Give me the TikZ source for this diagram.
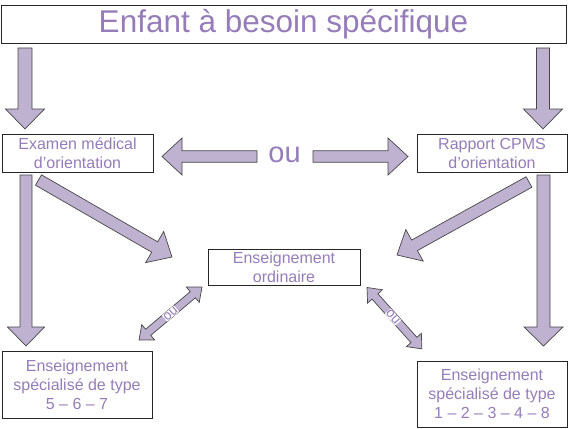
\documentclass[tikz,border=0pt]{standalone}
\usepackage{fontspec}
\setmainfont{Liberation Sans}
\usetikzlibrary{calc}
\definecolor{txtpurple}{RGB}{150,125,185}
\definecolor{arrfill}{RGB}{191,178,209}
\definecolor{arrline}{RGB}{70,70,70}
\tikzset{
  fatarr/.style={fill=arrfill,draw=arrline,line width=0.7pt,line join=miter},
  box/.style={draw=black!85,line width=0.9pt,fill=white,inner sep=0pt,align=center,
    text=txtpurple,font=\fontsize{16}{19}\selectfont},
  smallou/.style={text=txtpurple,font=\fontsize{13.5}{14}\selectfont,fill=white,inner sep=0.3pt},
}
\newcommand\getdir[2]{%
  \path let \p1=(#1),\p2=(#2) in \pgfextra{%
    \pgfmathsetmacro\faA{atan2(\y2-\y1,\x2-\x1)}\xdef\faA{\faA}%
    \pgfmathsetmacro\faL{veclen(\x2-\x1,\y2-\y1)}\xdef\faL{\faL}%
    \xdef\faX{\x1}\xdef\faY{\y1}};}
% from, to, half shaft, half head, head length
\newcommand\fatarrow[5]{%
  \getdir{#1}{#2}%
  \begin{scope}[shift={(\faX,\faY)},rotate=\faA]
    \draw[fatarr] (0,#3) -- ({\faL-#5},#3) -- ({\faL-#5},#4) -- (\faL,0)
      -- ({\faL-#5},-#4) -- ({\faL-#5},-#3) -- (0,-#3) -- cycle;
  \end{scope}}
\newcommand\dblarrow[5]{%
  \getdir{#1}{#2}%
  \begin{scope}[shift={(\faX,\faY)},rotate=\faA]
    \draw[fatarr] (0,0) -- (#5,#4) -- (#5,#3) -- ({\faL-#5},#3) -- ({\faL-#5},#4) -- (\faL,0)
      -- ({\faL-#5},-#4) -- ({\faL-#5},-#3) -- (#5,-#3) -- (#5,-#4) -- cycle;
  \end{scope}}
\begin{document}
\begin{tikzpicture}[x=1pt,y=-1pt]
\useasboundingbox (0,0) rectangle (569,428);
% boxes
\node[box,minimum width=565pt,minimum height=38pt,font=\fontsize{31.5}{32}\selectfont] (top) at (283.5,24) {Enfant à besoin spécifique};
\node[box,minimum width=151pt,minimum height=38pt] (exam) at (77.5,153) {Examen médical\\d’orientation};
\node[box,minimum width=150pt,minimum height=38pt] (cpms) at (492,153) {Rapport CPMS\\d’orientation};
\node[box,minimum width=152pt,minimum height=36pt] (ord) at (284,267) {Enseignement\\ordinaire};
\node[box,minimum width=150pt,minimum height=67pt] (spl) at (77,384.5) {Enseignement\\spécialisé de type\\5 – 6 – 7};
\node[box,minimum width=150pt,minimum height=66pt] (spr) at (492,394) {Enseignement\\spécialisé de type\\1 – 2 – 3 – 4 – 8};
% arrow endpoints
\coordinate (t1a) at (25,48);   \coordinate (t1b) at (25,129);
\coordinate (t2a) at (543,48);  \coordinate (t2b) at (543,129);
\coordinate (oula) at (257,156.5); \coordinate (oulb) at (162,156.5);
\coordinate (oura) at (313,156.5); \coordinate (ourb) at (408,156.5);
\coordinate (v1a) at (26,175);  \coordinate (v1b) at (26,346);
\coordinate (v2a) at (543.5,175); \coordinate (v2b) at (543.5,346);
\coordinate (d1a) at (38.5,180); \coordinate (d1b) at (172,257);
\coordinate (d2a) at (529,182); \coordinate (d2b) at (397,255);
\coordinate (s1a) at (139,340); \coordinate (s1b) at (202,287);
\coordinate (s2a) at (367,287.5); \coordinate (s2b) at (422,349);
\fatarrow{t1a}{t1b}{7}{19.5}{20}
\fatarrow{t2a}{t2b}{6.5}{19.5}{20}
\fatarrow{oula}{oulb}{5.7}{18.5}{20}
\fatarrow{oura}{ourb}{5.7}{18.5}{20}
\fatarrow{v1a}{v1b}{6}{18.5}{19}
\fatarrow{v2a}{v2b}{6.5}{19.5}{19}
\fatarrow{d1a}{d1b}{6}{18}{20}
\fatarrow{d2a}{d2b}{6}{18}{20}
\dblarrow{s1a}{s1b}{4}{10}{12}
\dblarrow{s2a}{s2b}{4}{10}{12}
% texts
\node[text=txtpurple,font=\fontsize{29}{30}\selectfont,inner sep=0pt] (ou) at (284.5,155) {ou};
\node[smallou,rotate=40] (ou1) at (170.5,313.5) {ou};
\node[smallou,rotate=-48] (ou2) at (393,317) {ou};
\end{tikzpicture}
\end{document}
